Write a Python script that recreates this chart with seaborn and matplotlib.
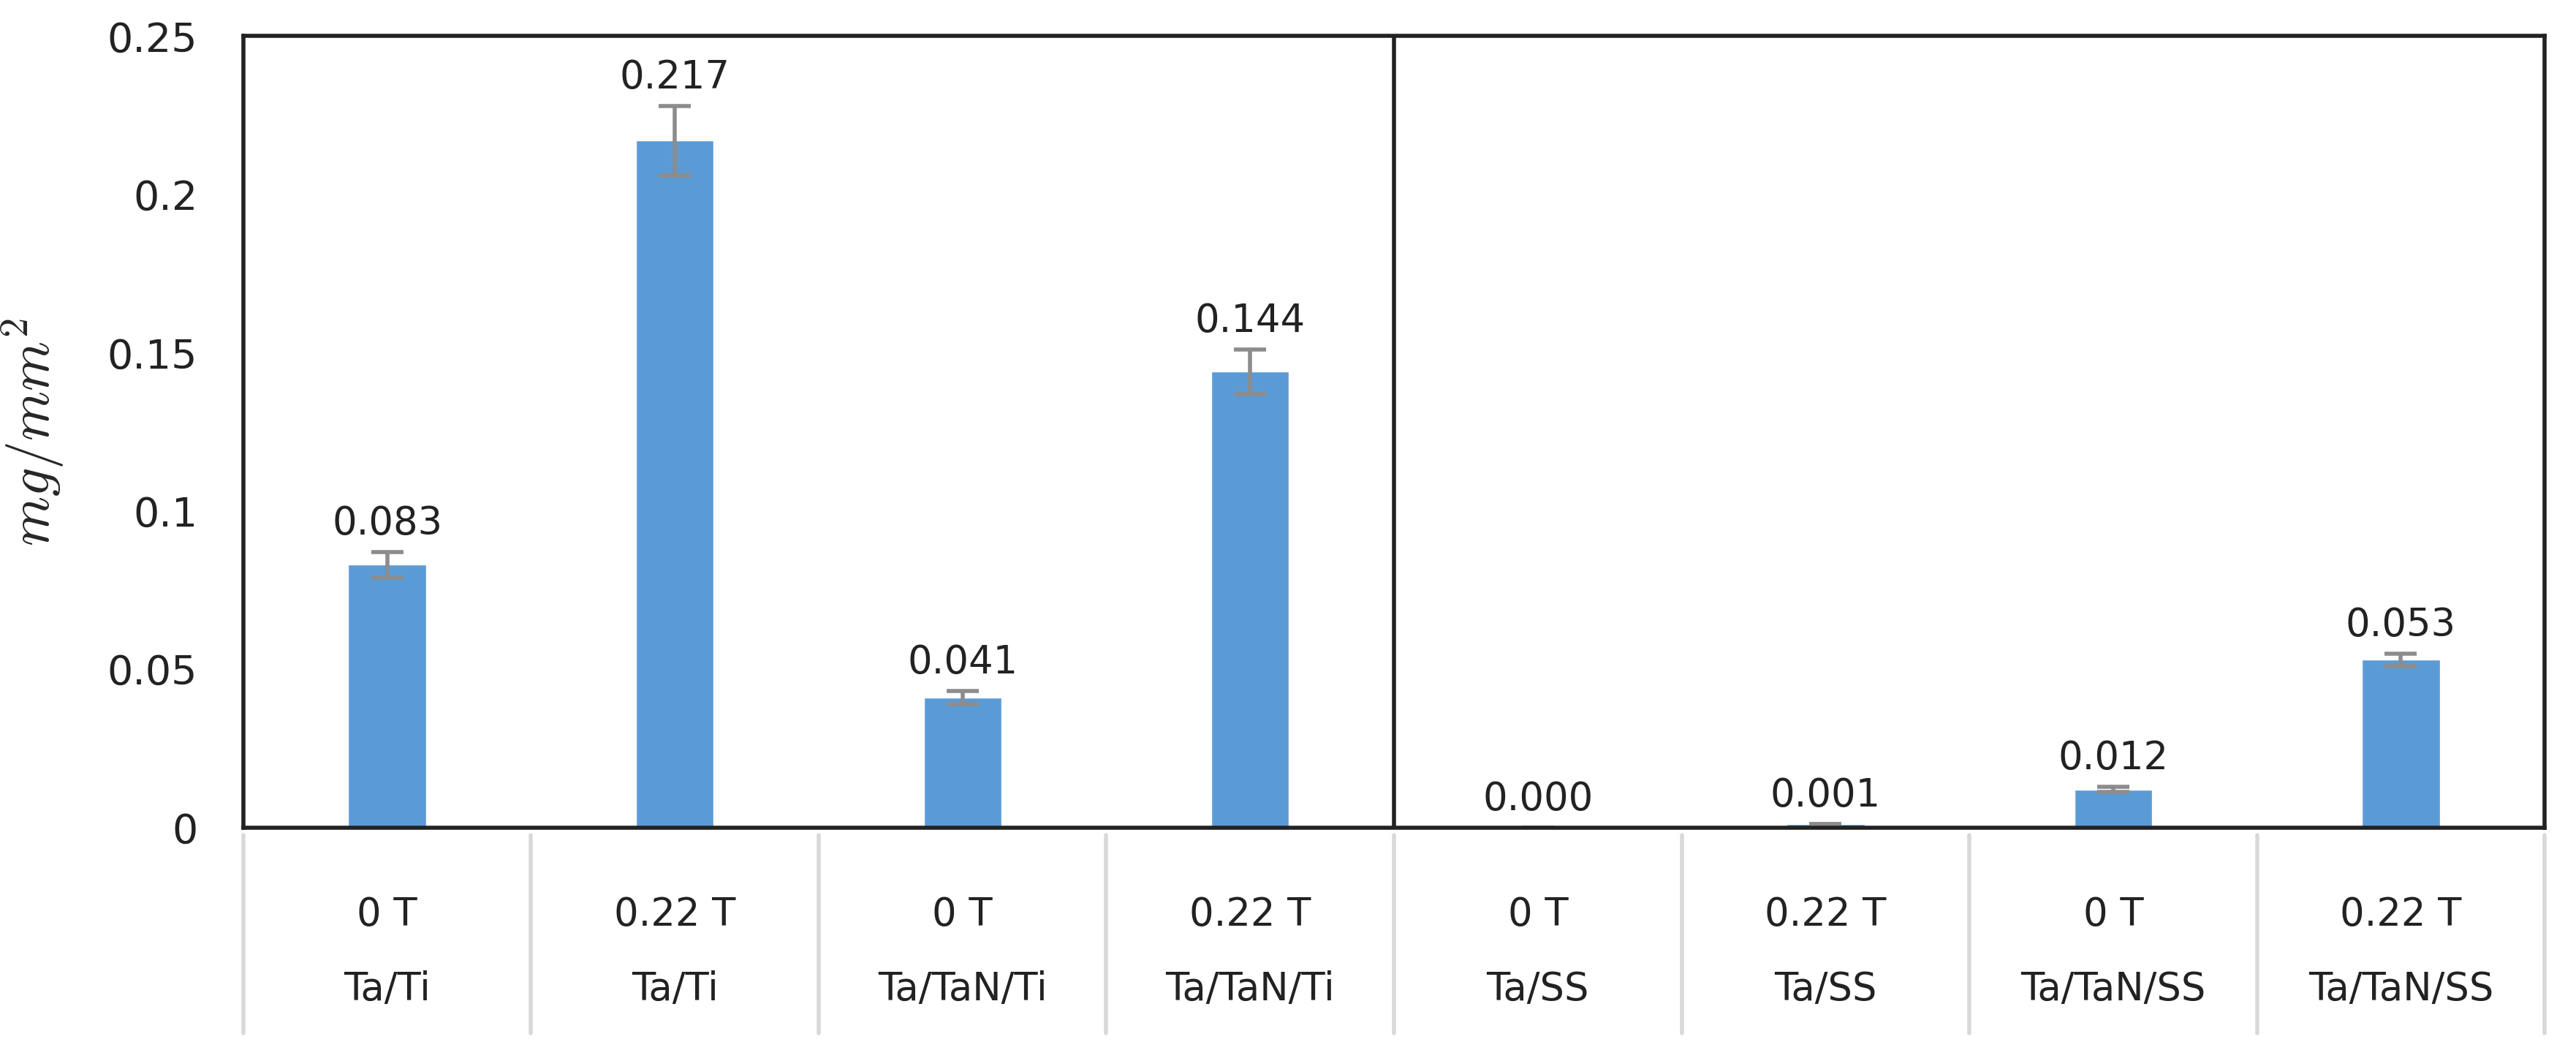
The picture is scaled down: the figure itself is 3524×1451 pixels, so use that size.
import numpy as np
import pandas as pd
import matplotlib
matplotlib.use("Agg")
import matplotlib.pyplot as plt
import seaborn as sns

field = ["0 T", "0.22 T", "0 T", "0.22 T", "0 T", "0.22 T", "0 T", "0.22 T"]
sample = ["Ta/Ti", "Ta/Ti", "Ta/TaN/Ti", "Ta/TaN/Ti", "Ta/SS", "Ta/SS", "Ta/TaN/SS", "Ta/TaN/SS"]
values = [0.083, 0.217, 0.041, 0.144, 0.000, 0.001, 0.012, 0.053]
errors = [0.004, 0.011, 0.002, 0.007, 0.0, 0.0, 0.0008, 0.002]

sns.set_style("white")
plt.rcParams['font.family'] = ['DejaVu Sans']
plt.rcParams['mathtext.fontset'] = 'cm'

df = pd.DataFrame({"pos": np.arange(len(values)), "val": values})
fig = plt.figure(figsize=(35.24, 14.51), dpi=100)
ax = fig.add_axes([148/1567, 1-503/645, 1400/1567, 481/645])
sns.barplot(data=df, x="pos", y="val", color="#5b9bd5", saturation=1, width=0.27, ax=ax, errorbar=None)
ax.errorbar(df["pos"], df["val"], yerr=errors, fmt="none", ecolor="#8c8c8c", elinewidth=4, capsize=16, capthick=4)

for i, v in enumerate(values):
    ax.text(i, v + errors[i] + 0.003, f"{v:.3f}", ha="center", va="bottom", fontsize=38, color="#222222")

ax.set_ylim(0, 0.25)
ax.set_xlim(-0.5, 7.5)
ax.set_yticks([0, 0.05, 0.1, 0.15, 0.2, 0.25])
ax.set_yticklabels(["0", "0.05", "0.1", "0.15", "0.2", "0.25"], fontsize=40, color="#222222")
ax.tick_params(axis="y", length=0, pad=45)
ax.set_xticks([])
ax.set_xlabel("")
ax.set_ylabel(r"$mg/mm^2$", fontsize=56, labelpad=40)
for s in ax.spines.values():
    s.set_linewidth(4)
    s.set_color("#222222")
ax.axvline(3.5, color="#222222", lw=4)

trans = ax.get_xaxis_transform()
for i in range(len(values)):
    ax.text(i, -0.11, field[i], transform=trans, ha="center", va="center", fontsize=38, color="#222222")
    ax.text(i, -0.205, sample[i], transform=trans, ha="center", va="center", fontsize=38, color="#222222")
for b in np.arange(-0.5, 8.0, 1.0):
    ax.plot([b, b], [-0.01, -0.26], transform=trans, color="#d9d9d9", lw=4, clip_on=False)

fig.savefig("out.png", dpi=100)
